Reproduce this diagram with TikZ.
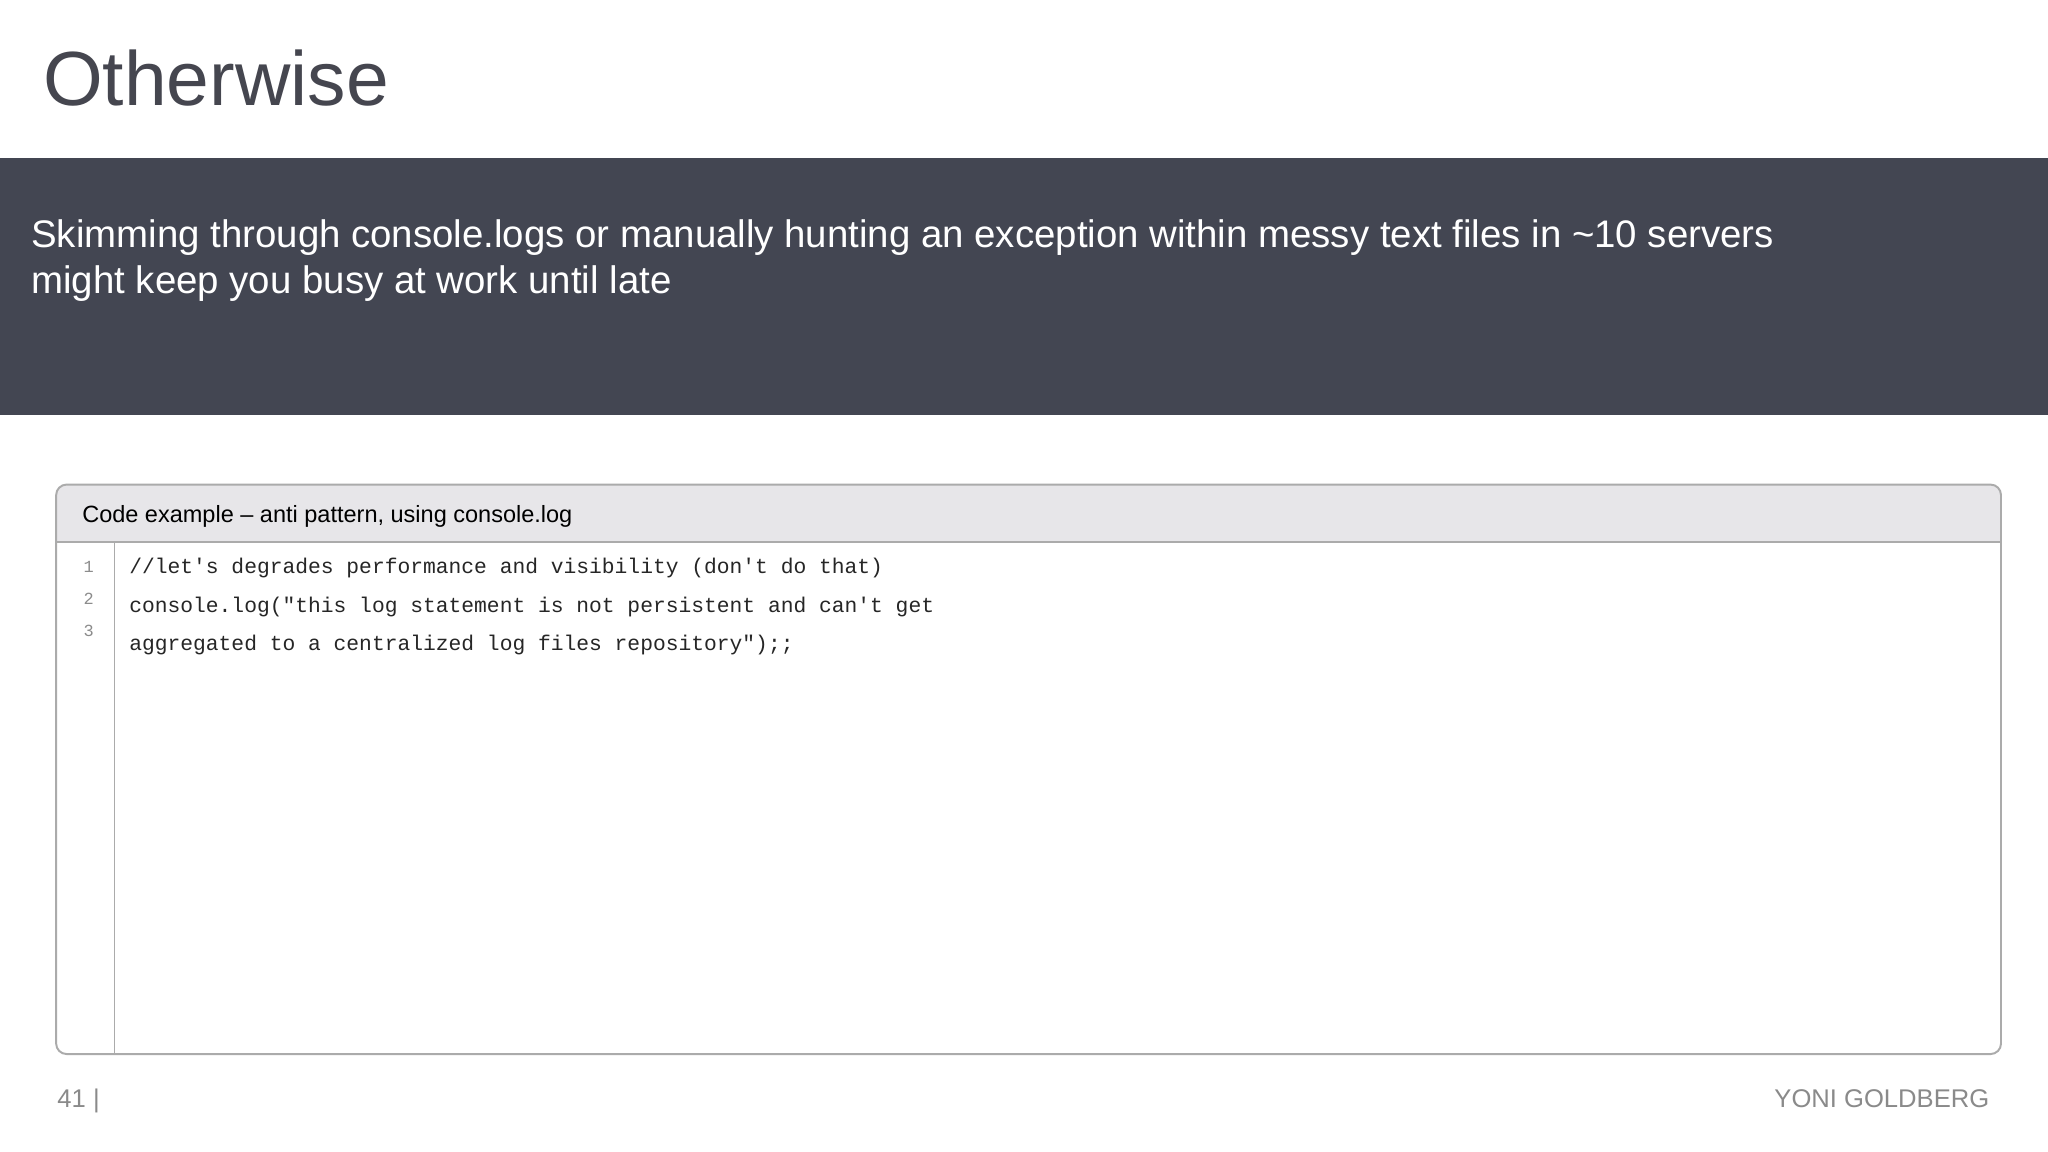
\documentclass[tikz,border=0pt]{standalone}
\usepackage{fontspec}
\setmainfont{Liberation Sans}
\setmonofont{Liberation Mono}
\definecolor{band}{HTML}{434652}
\definecolor{titlec}{HTML}{45464F}
\definecolor{hdr}{HTML}{E7E6E9}
\definecolor{bord}{HTML}{ABABAB}
\definecolor{foot}{HTML}{8A8A8A}
\begin{document}
\begin{tikzpicture}[x=1pt,y=-1pt,
  every node/.style={inner sep=0pt,outer sep=0pt,anchor=base west},
  codeline/.style={font=\fontsize{16.3}{18}\ttfamily,text=black!85},
  lnum/.style={font=\fontsize{13}{15}\ttfamily,text=black!45}]
\useasboundingbox (0,0) rectangle (1568,882);
\fill[white] (0,0) rectangle (1568,882);
\node[text=titlec,font=\fontsize{58.8}{70}\selectfont] (title) at (33,81) {Otherwise};
\fill[band] (0,121) rectangle (1568,318);
\node[text=white,font=\fontsize{29.4}{35.5}\selectfont,align=left,anchor=north west] (sub) at (24,168)
 {Skimming through console.logs or manually hunting an exception within messy text files in \textasciitilde10 servers\\might keep you busy at work until late};
% code box
\begin{scope}
\clip[rounded corners=8] (43,371) rectangle (1532,807);
\fill[hdr] (43,371) rectangle (1532,415);
\end{scope}
\draw[bord,line width=1.2] (43,415) -- (1532,415);
\draw[bord,line width=0.8] (88,415) -- (88,807);
\draw[bord,line width=1.5,rounded corners=8] (43,371) rectangle (1532,807);
\node[font=\fontsize{18}{22}\selectfont] (hd) at (63,400) {Code example -- anti pattern, using console.log};
\node[lnum] (n1) at (64,438) {1};
\node[lnum] (n2) at (64,463) {2};
\node[lnum] (n3) at (64,487) {3};
\node[codeline] (c1) at (99,439) {//let's degrades performance and visibility (don't do that)};
\node[codeline] (c2) at (99,469) {console.log("this log statement is not persistent and can't get};
\node[codeline] (c3) at (99,498) {aggregated to a centralized log files repository");;};
\node[text=foot,font=\fontsize{19.6}{22}\selectfont] (pg) at (44,848) {41 |};
\node[text=foot,font=\fontsize{19.6}{22}\selectfont,anchor=base east] (au) at (1523,848) {YONI GOLDBERG};
\end{tikzpicture}
\end{document}
